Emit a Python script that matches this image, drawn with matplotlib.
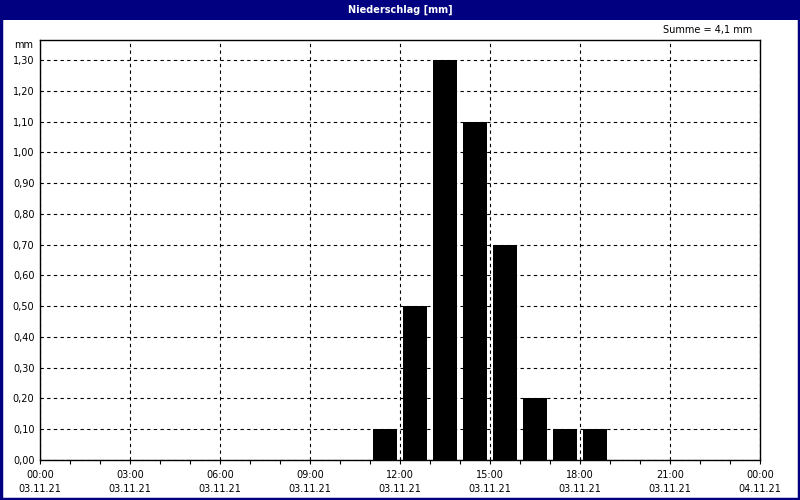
import matplotlib
matplotlib.use("Agg")
import matplotlib.pyplot as plt
from matplotlib.patches import Rectangle

# hourly precipitation, bar centre in hours after 03.11.21 00:00
hours = [11.5, 12.5, 13.5, 14.5, 15.5, 16.5, 17.5, 18.5]
precip = [0.1, 0.5, 1.3, 1.1, 0.7, 0.2, 0.1, 0.1]

tick_hours = [0, 3, 6, 9, 12, 15, 18, 21, 24]
tick_times = ["00:00", "03:00", "06:00", "09:00", "12:00", "15:00", "18:00", "21:00", "00:00"]
tick_dates = ["03.11.21"] * 8 + ["04.11.21"]
y_ticks = [i / 10 for i in range(14)]

navy = "#000080"
fs = 7

fig = plt.figure(figsize=(8, 5), dpi=100)
fig.patch.set_facecolor("white")

# title bar + frame
fig.patches.append(Rectangle((0, 480 / 500), 1, 20 / 500, transform=fig.transFigure,
                             facecolor=navy, edgecolor="none", zorder=0))
fig.patches.append(Rectangle((0.001, 0.002), 0.998, 0.997, transform=fig.transFigure,
                             facecolor="none", edgecolor=navy, linewidth=2.5, zorder=5))
fig.text(0.5, 1 - 9.5 / 500, "Niederschlag [mm]", color="white", fontsize=fs,
         fontweight="bold", ha="center", va="center")
fig.text(752 / 800, 1 - 30 / 500, "Summe = 4,1 mm", fontsize=fs, ha="right", va="center")
fig.text(33 / 800, 1 - 45 / 500, "mm", fontsize=fs, ha="right", va="center")

ax = fig.add_axes([40 / 800, 40 / 500, 720 / 800, 420 / 500])
ax.bar(hours, precip, width=0.8, color="black", zorder=3)

ax.set_xlim(0, 24)
ax.set_ylim(0, 1.3 + 20 / 400 * 1.3)

ax.set_xticks(tick_hours)
ax.set_xticklabels([t + "\n" + d for t, d in zip(tick_times, tick_dates)],
                   linespacing=1.55, fontsize=fs)
ax.set_xticks(range(25), minor=True)
ax.tick_params(axis="x", which="both", direction="out", length=3, width=0.8, pad=4)

ax.set_yticks(y_ticks)
ax.set_yticklabels([f"{v:.2f}".replace(".", ",") for v in y_ticks], fontsize=fs)
ax.tick_params(axis="y", length=0, pad=4)

ax.grid(True, which="major", color="black", linestyle=(0, (3, 3)), linewidth=0.8, zorder=1)
for s in ax.spines.values():
    s.set_linewidth(1)
ax.set_axisbelow(True)

fig.savefig("out.png", dpi=100)
